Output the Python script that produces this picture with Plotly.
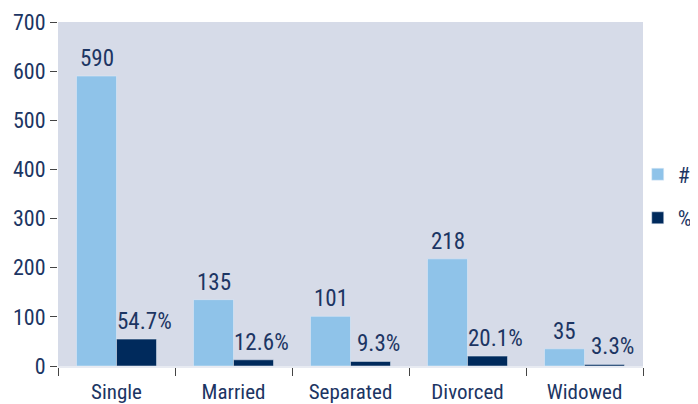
import plotly.graph_objects as go

categorias = ["Single", "Married", "Separated", "Divorced", "Widowed"]
numero = [590, 135, 101, 218, 35]
porcentaje = [54.7, 12.6, 9.3, 20.1, 3.3]
etiquetas_pct = ["54.7%", "12.6%", "9.3%", "20.1%", "3.3%"]

fuente = "Roboto Condensed, sans-serif"
azul_osc = "#1c3563"

fig = go.Figure()
fig.add_trace(go.Bar(x=categorias, y=numero, name="#", marker_color="#8fc3e9",
                     legendgroup="a", cliponaxis=False))
fig.add_trace(go.Bar(x=categorias, y=porcentaje, name="%", marker_color="#002a5c",
                     legendgroup="b", cliponaxis=False))

# etiquetas de datos
for c, v in zip(categorias, numero):
    fig.add_annotation(x=c, y=v, text=str(v), showarrow=False, xshift=-20, yshift=2,
                       yanchor="bottom", font=dict(size=23, color=azul_osc, family=fuente))
for c, v, t in zip(categorias, porcentaje, etiquetas_pct):
    fig.add_annotation(x=c, y=v, text=t, showarrow=False, xshift=28, yshift=2,
                       yanchor="bottom", font=dict(size=23, color=azul_osc, family=fuente))

# el body de la pagina tiene 8px de margen
fig.update_layout(
    width=690, height=396,
    margin=dict(l=50, r=55, t=14, b=38, autoexpand=False),
    paper_bgcolor="white", plot_bgcolor="#d6dbe8",
    barmode="group", bargap=0.316, bargroupgap=0,
    font=dict(family=fuente, color=azul_osc, size=21),
    showlegend=True,
    legend=dict(x=0.991, y=0.493, xanchor="left", yanchor="middle",
                font=dict(size=22, color=azul_osc), traceorder="grouped",
                tracegroupgap=12, itemwidth=30, bgcolor="rgba(0,0,0,0)"),
)
fig.update_xaxes(tickson="boundaries", ticks="outside", ticklen=8, tickcolor="#444444",
                 showline=True, linecolor="#e8ebf2", linewidth=2, automargin=False,
                 ticklabelstandoff=6,
                 tickfont=dict(size=21, color=azul_osc), showgrid=False)
fig.update_yaxes(range=[0, 700], dtick=100, ticks="outside", ticklen=7, tickcolor="#444444",
                 showgrid=False, zeroline=False, showline=False, automargin=False,
                 tickfont=dict(size=22, color=azul_osc))

fig.write_html("out.html")
